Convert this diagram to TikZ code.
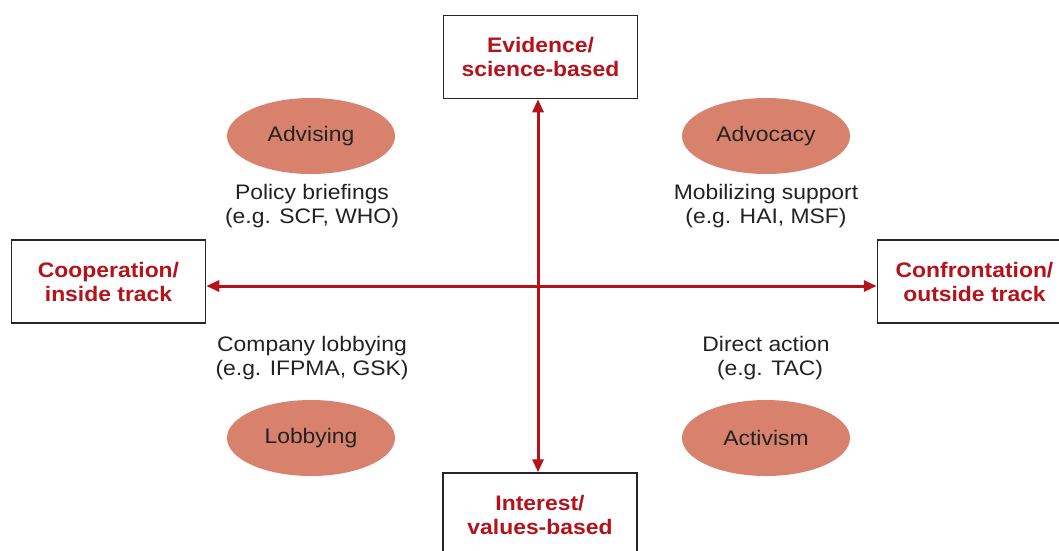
\documentclass[tikz,border=0pt]{standalone}
\usepackage{fontspec}
\setmainfont{Liberation Sans}[FakeStretch=1.09]
\usetikzlibrary{arrows.meta,shapes.geometric}
\definecolor{axred}{HTML}{B5121B}
\definecolor{salmon}{HTML}{D8826D}
\definecolor{txt}{HTML}{222222}
\begin{document}
\begin{tikzpicture}[x=1pt,y=-1pt,
  pole/.style={draw=black!85, line width=1.5pt, fill=white, minimum width=194pt, minimum height=83pt,
    align=center, text=axred, font=\fontsize{21}{24}\selectfont\bfseries, inner sep=0pt},
  blob/.style={ellipse, fill=salmon, minimum width=168pt, minimum height=76pt, inner sep=0pt,
    text=txt, font=\fontsize{21}{24}\selectfont},
  note/.style={align=center, text=txt, font=\fontsize{21}{24}\selectfont, inner sep=0pt},
  axis/.style={draw=axred, line width=3pt, {Triangle[length=13pt,width=11pt]}-{Triangle[length=13pt,width=11pt]}}
]
\useasboundingbox (0,0) rectangle (1059,550);
\clip (0,0) rectangle (1059,550);
\coordinate (c) at (538,286);
\node[pole] (top) at (540.5,57) {Evidence/\\science-based};
\node[pole] (bot) at (540,514.5) {Interest/\\values-based};
\node[pole] (lft) at (108.5,281.5) {Cooperation/\\inside track};
\node[pole] (rgt) at (974.5,281.5) {Confrontation/\\outside track};
\draw[axis] (lft.east |- c) -- (rgt.west |- c);
\draw[axis] (top.south -| c) -- (bot.north -| c);
\node[blob] (adv) at (311,136) {Advising};
\node[blob] (advo) at (766,136) {Advocacy};
\node[blob] (lob) at (311,438) {Lobbying};
\node[blob] (act) at (766,438) {Activism};
\node[note] (n1) at (312,206) {Policy briefings\\(e.g. SCF, WHO)};
\node[note] (n2) at (766,206) {Mobilizing support\\(e.g. HAI, MSF)};
\node[note] (n3) at (312,358) {Company lobbying\\(e.g. IFPMA, GSK)};
\node[note] (n4) at (766,358) {Direct action\\\hspace*{8pt}(e.g. TAC)};
\end{tikzpicture}
\end{document}
